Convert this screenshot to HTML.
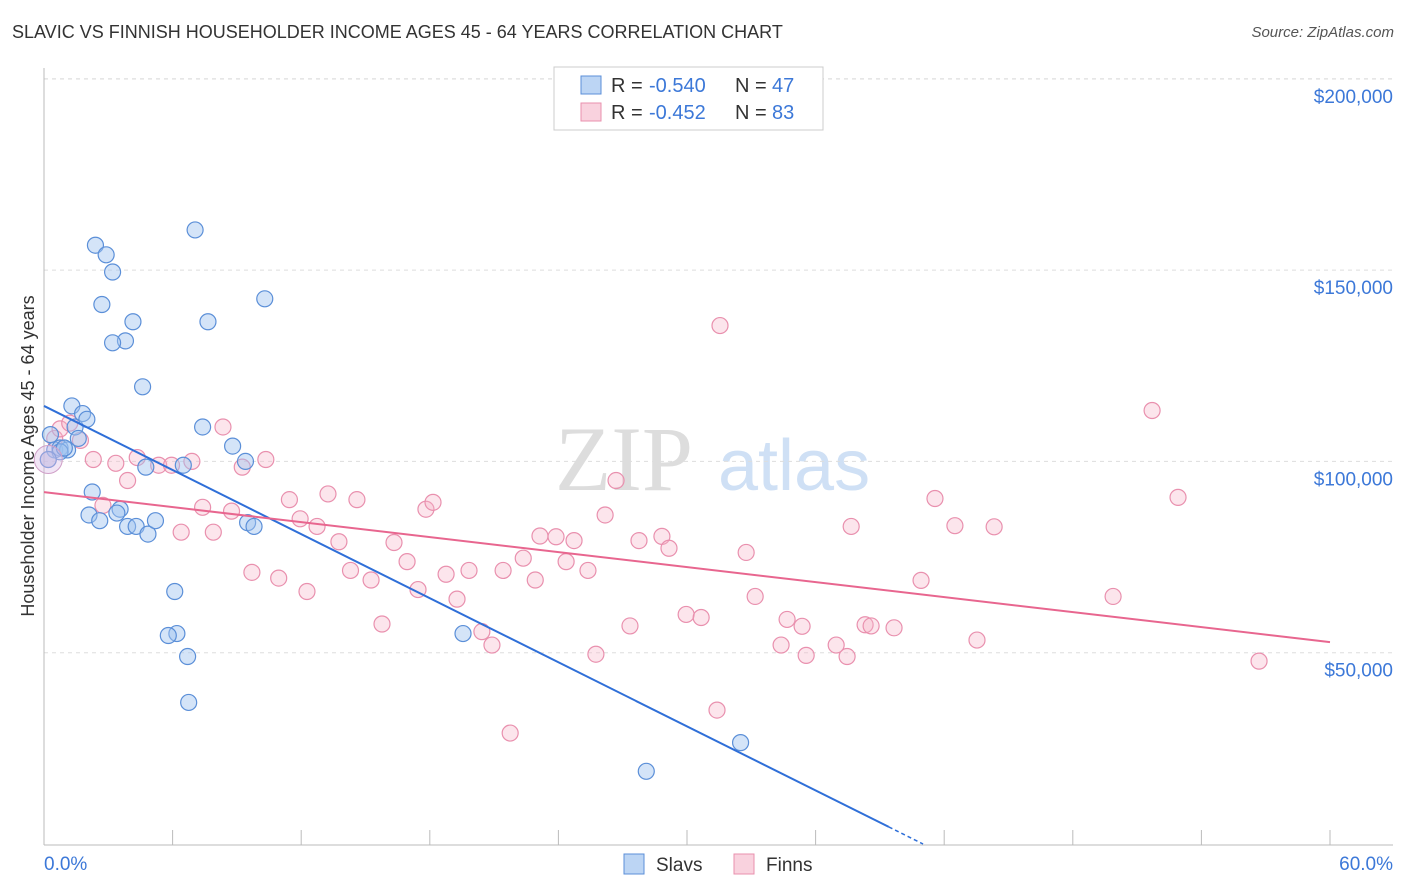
<!DOCTYPE html>
<html><head><meta charset="utf-8"><style>
body{margin:0;background:#fff;font-family:"Liberation Sans",sans-serif;}
#wrap{position:relative;width:1406px;height:892px;overflow:hidden;}
.t{position:absolute;white-space:nowrap;}
</style></head><body>
<div id="wrap">
<div class="t" style="left:12px;top:22px;font-size:18px;color:#333;">SLAVIC VS FINNISH HOUSEHOLDER INCOME AGES 45 - 64 YEARS CORRELATION CHART</div>
<div class="t" style="right:12px;top:24px;font-size:15px;color:#555;font-style:italic;">Source: ZipAtlas.com</div>
<svg id="svg" width="1406" height="892" style="position:absolute;left:0;top:0"></svg>
</div>
<script>
const yTicks=[50000,100000,150000,200000];
const yTickLabels=["$50,000","$100,000","$150,000","$200,000"];
const slavsX=[0.3,0.5,0.75,1.1,1.3,1.45,1.8,2.0,1.6,2.25,2.1,2.6,2.4,2.9,3.2,2.7,4.15,3.8,3.2,4.6,7.05,7.65,10.3,7.4,8.8,9.4,6.5,4.75,3.55,3.4,3.9,4.3,4.85,5.2,9.5,9.8,6.1,6.2,5.8,6.7,6.75,19.55,32.5,28.1,0.75,0.2,0.95];
const slavsY=[107000,103000,103500,103000,114500,109000,112500,111000,106000,92000,86000,84500,156500,154000,149500,141000,136500,131500,131000,119500,160500,136500,142500,109000,104000,100000,99000,98500,87500,86500,83000,83000,81000,84500,84000,83000,66000,55000,54500,49000,37000,55000,26500,19000,102500,100500,103500];
const finnsX=[0.2,0.5,0.75,1.2,1.7,2.3,3.35,2.75,3.9,4.35,5.35,5.95,6.9,6.4,7.4,7.9,8.35,8.75,9.25,10.35,9.7,10.95,11.45,11.95,12.27,12.74,13.25,13.76,14.3,14.6,15.26,15.77,16.33,16.94,17.45,17.82,18.15,18.76,19.27,19.83,20.43,20.9,21.42,21.75,22.36,22.92,23.14,23.89,24.36,24.73,25.38,26.18,26.69,25.75,27.34,27.76,28.83,29.16,29.96,30.66,31.54,31.4,32.76,33.18,34.39,34.67,35.37,35.56,36.96,37.47,37.66,38.31,38.59,39.66,40.92,41.57,42.5,43.53,44.33,49.88,51.7,52.91,56.69];
const finnsY=[100500,106000,108500,110000,105500,100500,99500,88500,95000,101000,99000,99000,100000,81500,88000,81500,109000,87000,98500,100500,71000,69500,90000,85000,66000,83000,91500,79000,71500,90000,69000,57500,78800,73800,66500,87500,89300,70500,64000,71500,55500,52000,71500,29000,74700,69000,80500,80300,73800,79300,71500,86000,95000,49600,57000,79300,80400,77300,60000,59200,135500,35000,76200,64700,52000,58700,56900,49300,52000,49000,83000,57300,57000,56500,68900,90300,83200,53300,82900,64700,113300,90600,47800];
const xMin=0,xMax=60,px0=44,px1=1330,yBase=844,pxPer=191.3/50000;
const sx=v=>px0+(v-xMin)/(xMax-xMin)*(px1-px0);
const sy=v=>yBase-v*pxPer;
const NS="http://www.w3.org/2000/svg";
const svg=document.getElementById('svg');
function mk(tag,attrs,parent){const e=document.createElementNS(NS,tag);for(const k in attrs)e.setAttribute(k,attrs[k]);(parent||svg).appendChild(e);return e;}
let w=mk('text',{x:555,y:490,'font-size':92,'font-family':'Liberation Serif,serif',fill:'#ddd'});w.textContent='ZIP';


let w2=mk('text',{x:718,y:490,'font-size':72,'font-family':'Liberation Sans,sans-serif',fill:'#cfe0f5'});w2.textContent='atlas';


yTicks.forEach((v,i)=>{
 const g=mk('line',{x1:44,x2:1393,y1:sy(v),y2:sy(v),stroke:'#ddd','stroke-dasharray':'4,4'});
 
 
 const t=mk('text',{x:1393,y:sy(v)+24,'text-anchor':'end','font-size':19,fill:'#3c78d8'});t.textContent=yTickLabels[i];
 
 
});
const topGrid=mk('line',{x1:44,x2:1393,y1:79,y2:79,stroke:'#ddd','stroke-dasharray':'4,4'});


const ya=mk('line',{x1:44,x2:44,y1:68,y2:845,stroke:'#bbb'});


const xa=mk('line',{x1:44,x2:1393,y1:845,y2:845,stroke:'#bbb'});


for(let i=0;i<=10;i++){const x=sx(i*6);const tk=mk('line',{x1:x,x2:x,y1:830,y2:845,stroke:'#bbb'});
 
 }
const xl0=mk('text',{x:44,y:870,'font-size':19,fill:'#3c78d8'});xl0.textContent='0.0%';


const xl1=mk('text',{x:1393,y:870,'text-anchor':'end','font-size':19,fill:'#3c78d8'});xl1.textContent='60.0%';


const yt=mk('text',{x:34,y:456,'font-size':18,fill:'#333','text-anchor':'middle',transform:'rotate(-90 34 456)'});yt.textContent='Householder Income Ages 45 - 64 years';


function pts(xs,ys,fill,stroke,name){xs.forEach((x,i)=>{const c=mk('circle',{cx:sx(x),cy:sy(ys[i]),r:8,fill:fill,stroke:stroke,'stroke-width':1.2});
 
 });}
pts(finnsX,finnsY,'rgba(245,180,200,0.35)','#e990ae','finns-point');
pts(slavsX,slavsY,'rgba(160,195,240,0.45)','#5b8fd8','slavs-point');
const big=mk('circle',{cx:sx(0.2),cy:sy(100500),r:14,fill:'rgba(220,190,230,0.4)',stroke:'#d0a0c8'});


function fit(xs,ys){const n=xs.length;let mx=0,my=0;xs.forEach((x,i)=>{mx+=x;my+=ys[i]});mx/=n;my/=n;let a=0,b=0;xs.forEach((x,i)=>{a+=(x-mx)*(ys[i]-my);b+=(x-mx)**2});const s=a/b;return [s,my-s*mx];}
const [bs,bi]=fit(slavsX,slavsY);
const xEnd=Math.min(-bi/bs,45);
const xSolid=xEnd-1.6;
const bl=mk('line',{x1:sx(0),y1:sy(bi),x2:sx(xSolid),y2:sy(bi+bs*xSolid),stroke:'#2f6fd8','stroke-width':2});


const bd=mk('line',{x1:sx(xSolid),y1:sy(bi+bs*xSolid),x2:sx(xEnd),y2:sy(Math.max(0,bi+bs*xEnd)),stroke:'#2f6fd8','stroke-width':1.5,'stroke-dasharray':'4,3'});


const [fs,fi]=fit(finnsX,finnsY);
const fl=mk('line',{x1:sx(0),y1:sy(fi),x2:sx(60),y2:sy(fi+fs*60),stroke:'#e8668f','stroke-width':2});


const lg=mk('rect',{x:554,y:67,width:269,height:63,fill:'#fff',stroke:'#ccc'});


[[77,'rgba(160,195,240,0.7)','#5b8fd8','-0.540','47'],[104,'rgba(245,180,200,0.6)','#e990ae','-0.452','83']].forEach(r=>{
 const sw=mk('rect',{x:581,y:r[0]-1,width:20,height:18,fill:r[1],stroke:r[2]});
 
 
 const t1=mk('text',{x:611,y:r[0]+15,'font-size':20,fill:'#333'});t1.textContent='R =';
 
 
 const t2=mk('text',{x:649,y:r[0]+15,'font-size':20,fill:'#3c78d8'});t2.textContent=r[3];
 
 
 const t3=mk('text',{x:735,y:r[0]+15,'font-size':20,fill:'#333'});t3.textContent='N =';
 
 
 const t4=mk('text',{x:772,y:r[0]+15,'font-size':20,fill:'#3c78d8'});t4.textContent=r[4];
 
 
});
[[624,'rgba(160,195,240,0.7)','#5b8fd8','Slavs'],[734,'rgba(245,180,200,0.6)','#e990ae','Finns']].forEach(r=>{
 const sw=mk('rect',{x:r[0],y:854,width:20,height:20,fill:r[1],stroke:r[2]});
 
 
 const t=mk('text',{x:r[0]+32,y:871,'font-size':19,fill:'#333'});t.textContent=r[3];
 
 
});
</script>
</body></html>
